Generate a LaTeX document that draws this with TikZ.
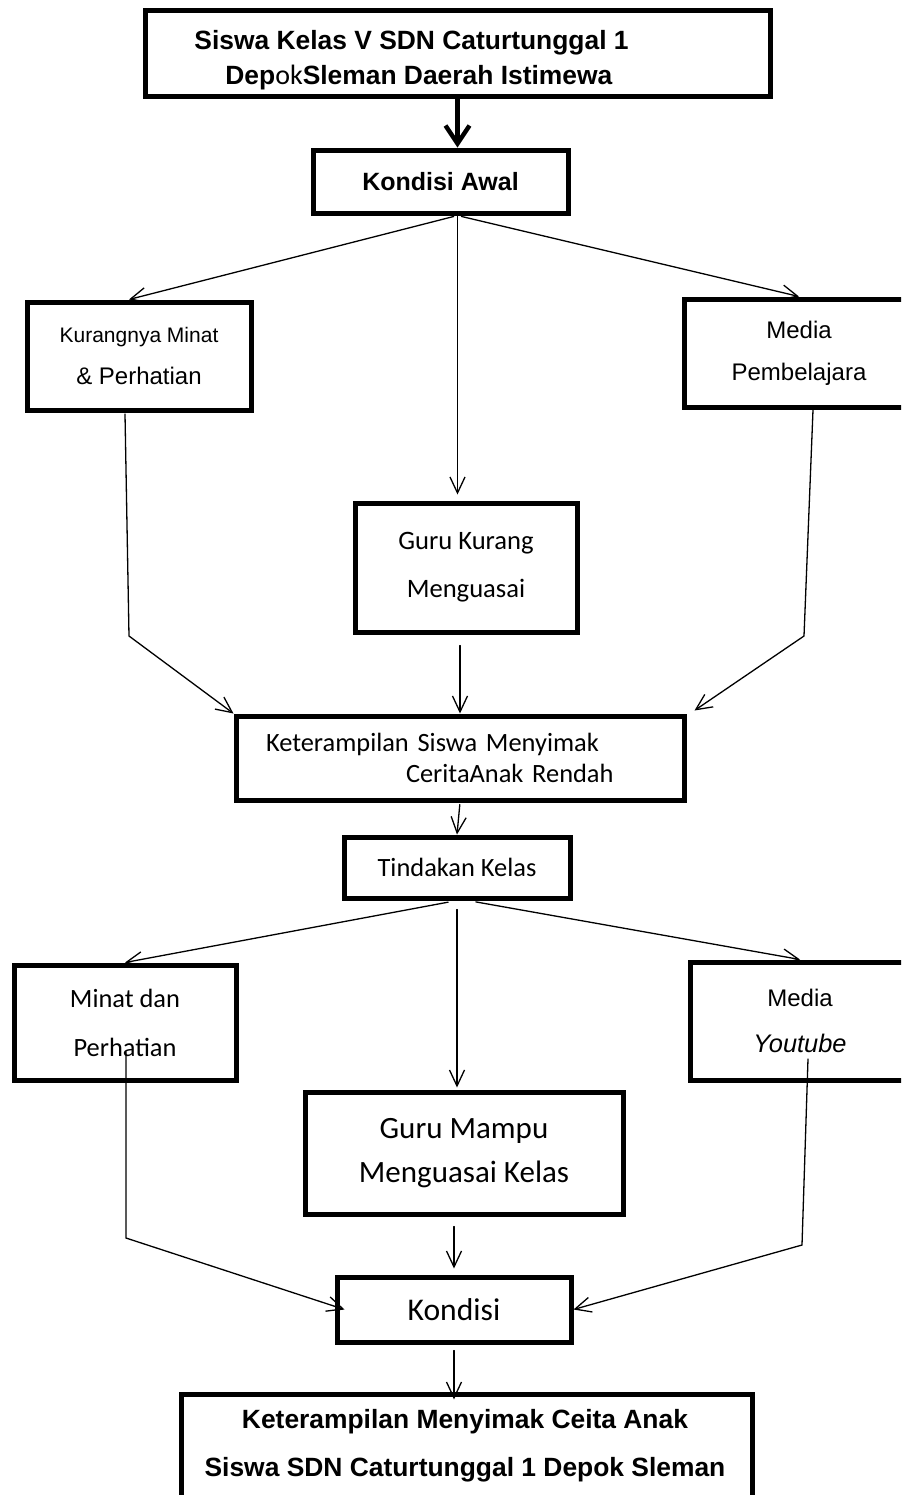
\documentclass[tikz,border=0pt]{standalone}
\usepackage{fontspec}
\usepackage{tikz}
\usetikzlibrary{arrows.meta,calc}
\newfontfamily\arial{Liberation Sans}
\newfontfamily\calibri{Carlito}

\begin{document}
\begin{tikzpicture}[x=0.5pt, y=-0.5pt, line cap=round,
    box/.style={draw, line width=2.5pt, inner sep=0pt, align=center},
    arr/.style={-{Straight Barb[length=8pt,width=7.5pt]}, line width=0.65pt},
    thickarr/.style={-{Straight Barb[length=9pt,width=12pt]}, line width=2.2pt}]
            \useasboundingbox (0,0) rectangle (901,1495);
            \clip (0,0) rectangle (901,1495);
            % top box
            \node[box, minimum width=312.5pt, minimum height=43pt] (siswa) at (457.5,53) {};
            \node[anchor=west, inner sep=0pt, align=left, font=\arial\bfseries\fontsize{13.2}{17.5}\selectfont] (siswatxt) at (194,60) {Siswa Kelas V SDN Caturtunggal 1\\\hspace*{15.5pt}Dep{\calibri\mdseries\fontsize{14}{17.5}\selectfont ok}Sleman Daerah Istimewa};
            \node[box, minimum width=127.5pt, minimum height=31.5pt, font=\arial\bfseries\fontsize{12.5}{15}\selectfont] (awal) at (440.5,181.5) {Kondisi Awal};
            % first row of causes
            \node[box, minimum width=112pt, minimum height=54pt, font=\arial\fontsize{12}{21}\selectfont] (kurang) at (139,356) {{\fontsize{10.5}{21}\selectfont Kurangnya Minat}\\\& Perhatian};
            \node[box, minimum width=115pt, minimum height=54pt, font=\arial\fontsize{12}{21}\selectfont] (media1) at (799,353) {Media\\Pembelajara};
            \node[box, minimum width=111pt, minimum height=64.5pt, font=\calibri\fontsize{13.3}{24}\selectfont] (guru1) at (466,567.5) {Guru Kurang\\Menguasai};
            \node[box, minimum width=224pt, minimum height=42pt, text width=194pt, align=left, font=\calibri\fontsize{13.2}{15.5}\selectfont] (ket) at (460,758) {\mbox{Keterampilan Siswa Menyimak}\\\hspace*{70pt}\mbox{CeritaAnak Rendah}};
            \node[box, minimum width=113pt, minimum height=30.5pt, font=\calibri\fontsize{13.2}{16}\selectfont] (tind) at (457,867.5) {Tindakan Kelas};
            % second row of actions
            \node[box, minimum width=111pt, minimum height=57.5pt, font=\calibri\fontsize{13.2}{24.5}\selectfont] (minat) at (125,1022.5) {Minat dan\\Perhatian};
            \node[box, minimum width=110pt, minimum height=59pt, font=\arial\fontsize{12}{23}\selectfont] (yt) at (800,1021) {Media\\{\itshape\fontsize{12.7}{23}\selectfont Youtube}};
            \node[box, minimum width=159pt, minimum height=61pt, font=\calibri\fontsize{15.5}{22}\selectfont] (mampu) at (464,1153) {Guru Mampu\\Menguasai Kelas};
            \node[box, minimum width=117pt, minimum height=32.5pt, font=\calibri\fontsize{15.8}{19}\selectfont] (kond) at (454,1309.5) {Kondisi};
            % bottom box, cut by the page
            \node[box, minimum width=285.5pt, minimum height=55.5pt] (akhir) at (466.5,1449.5) {};
            \node[inner sep=0pt, align=center, font=\arial\bfseries\fontsize{13.2}{24}\selectfont] (akhirtxt) at (465,1446) {Keterampilan Menyimak Ceita Anak\\Siswa SDN Caturtunggal 1 Depok Sleman};
            % top arrow
            \draw[thickarr] (siswa.south) -- (siswa.south |- awal.north);
            % arrows from kondisi awal
            \coordinate (awalout) at (siswa.south |- awal.south);
            \draw[arr, shorten <=2pt] (awalout) -- ($(kurang.north)+(-10,0)$);
            \draw[arr, shorten <=2pt] (awalout) -- (media1.north);
            \draw[arr, shorten >=3pt] (awalout) -- (awalout |- guru1.north);
            % lines down to keterampilan
            \coordinate (kurangout) at (125,414);
            \coordinate (kurangbend) at (129,636);
            \draw[arr] (kurangout) -- (kurangbend) -- (ket.north west);
            \coordinate (mediaout) at (813,410);
            \coordinate (mediabend) at (804,636);
            \draw[arr] (mediaout) -- (mediabend) -- ($(ket.north east)+(8,-3)$);
            \draw[arr, shorten <=5.5pt] (guru1.south -| ket.north) -- (ket.north);
            \draw[arr, shorten <=1pt] (ket.south) -- (tind.north);
            % arrows from tindakan kelas
            \draw[arr, shorten <=4.5pt] (tind.south) -- (minat.north);
            \draw[arr, shorten <=4pt] ($(tind.south)+(11,0)$) -- (yt.north);
            \draw[arr, shorten <=4.5pt, shorten >=1pt] (tind.south) -- (tind.south |- mampu.north);
            % lines down to kondisi
            \coordinate (minatout) at (126,1052);
            \coordinate (minatbend) at (126,1238);
            \draw[arr] (minatout) -- (minatbend) -- ($(kond.west)+(10,0)$);
            \coordinate (ytout) at (808,1059);
            \coordinate (ytbend) at (802,1245);
            \draw[arr] (ytout) -- (ytbend) -- (kond.east);
            \draw[arr, shorten <=5pt, shorten >=3pt] (mampu.south -| kond.north) -- (kond.north);
            \draw[arr, shorten <=3pt, shorten >=-4pt] (kond.south) -- (kond.south |- akhir.north);
        \end{tikzpicture}
\end{document}
